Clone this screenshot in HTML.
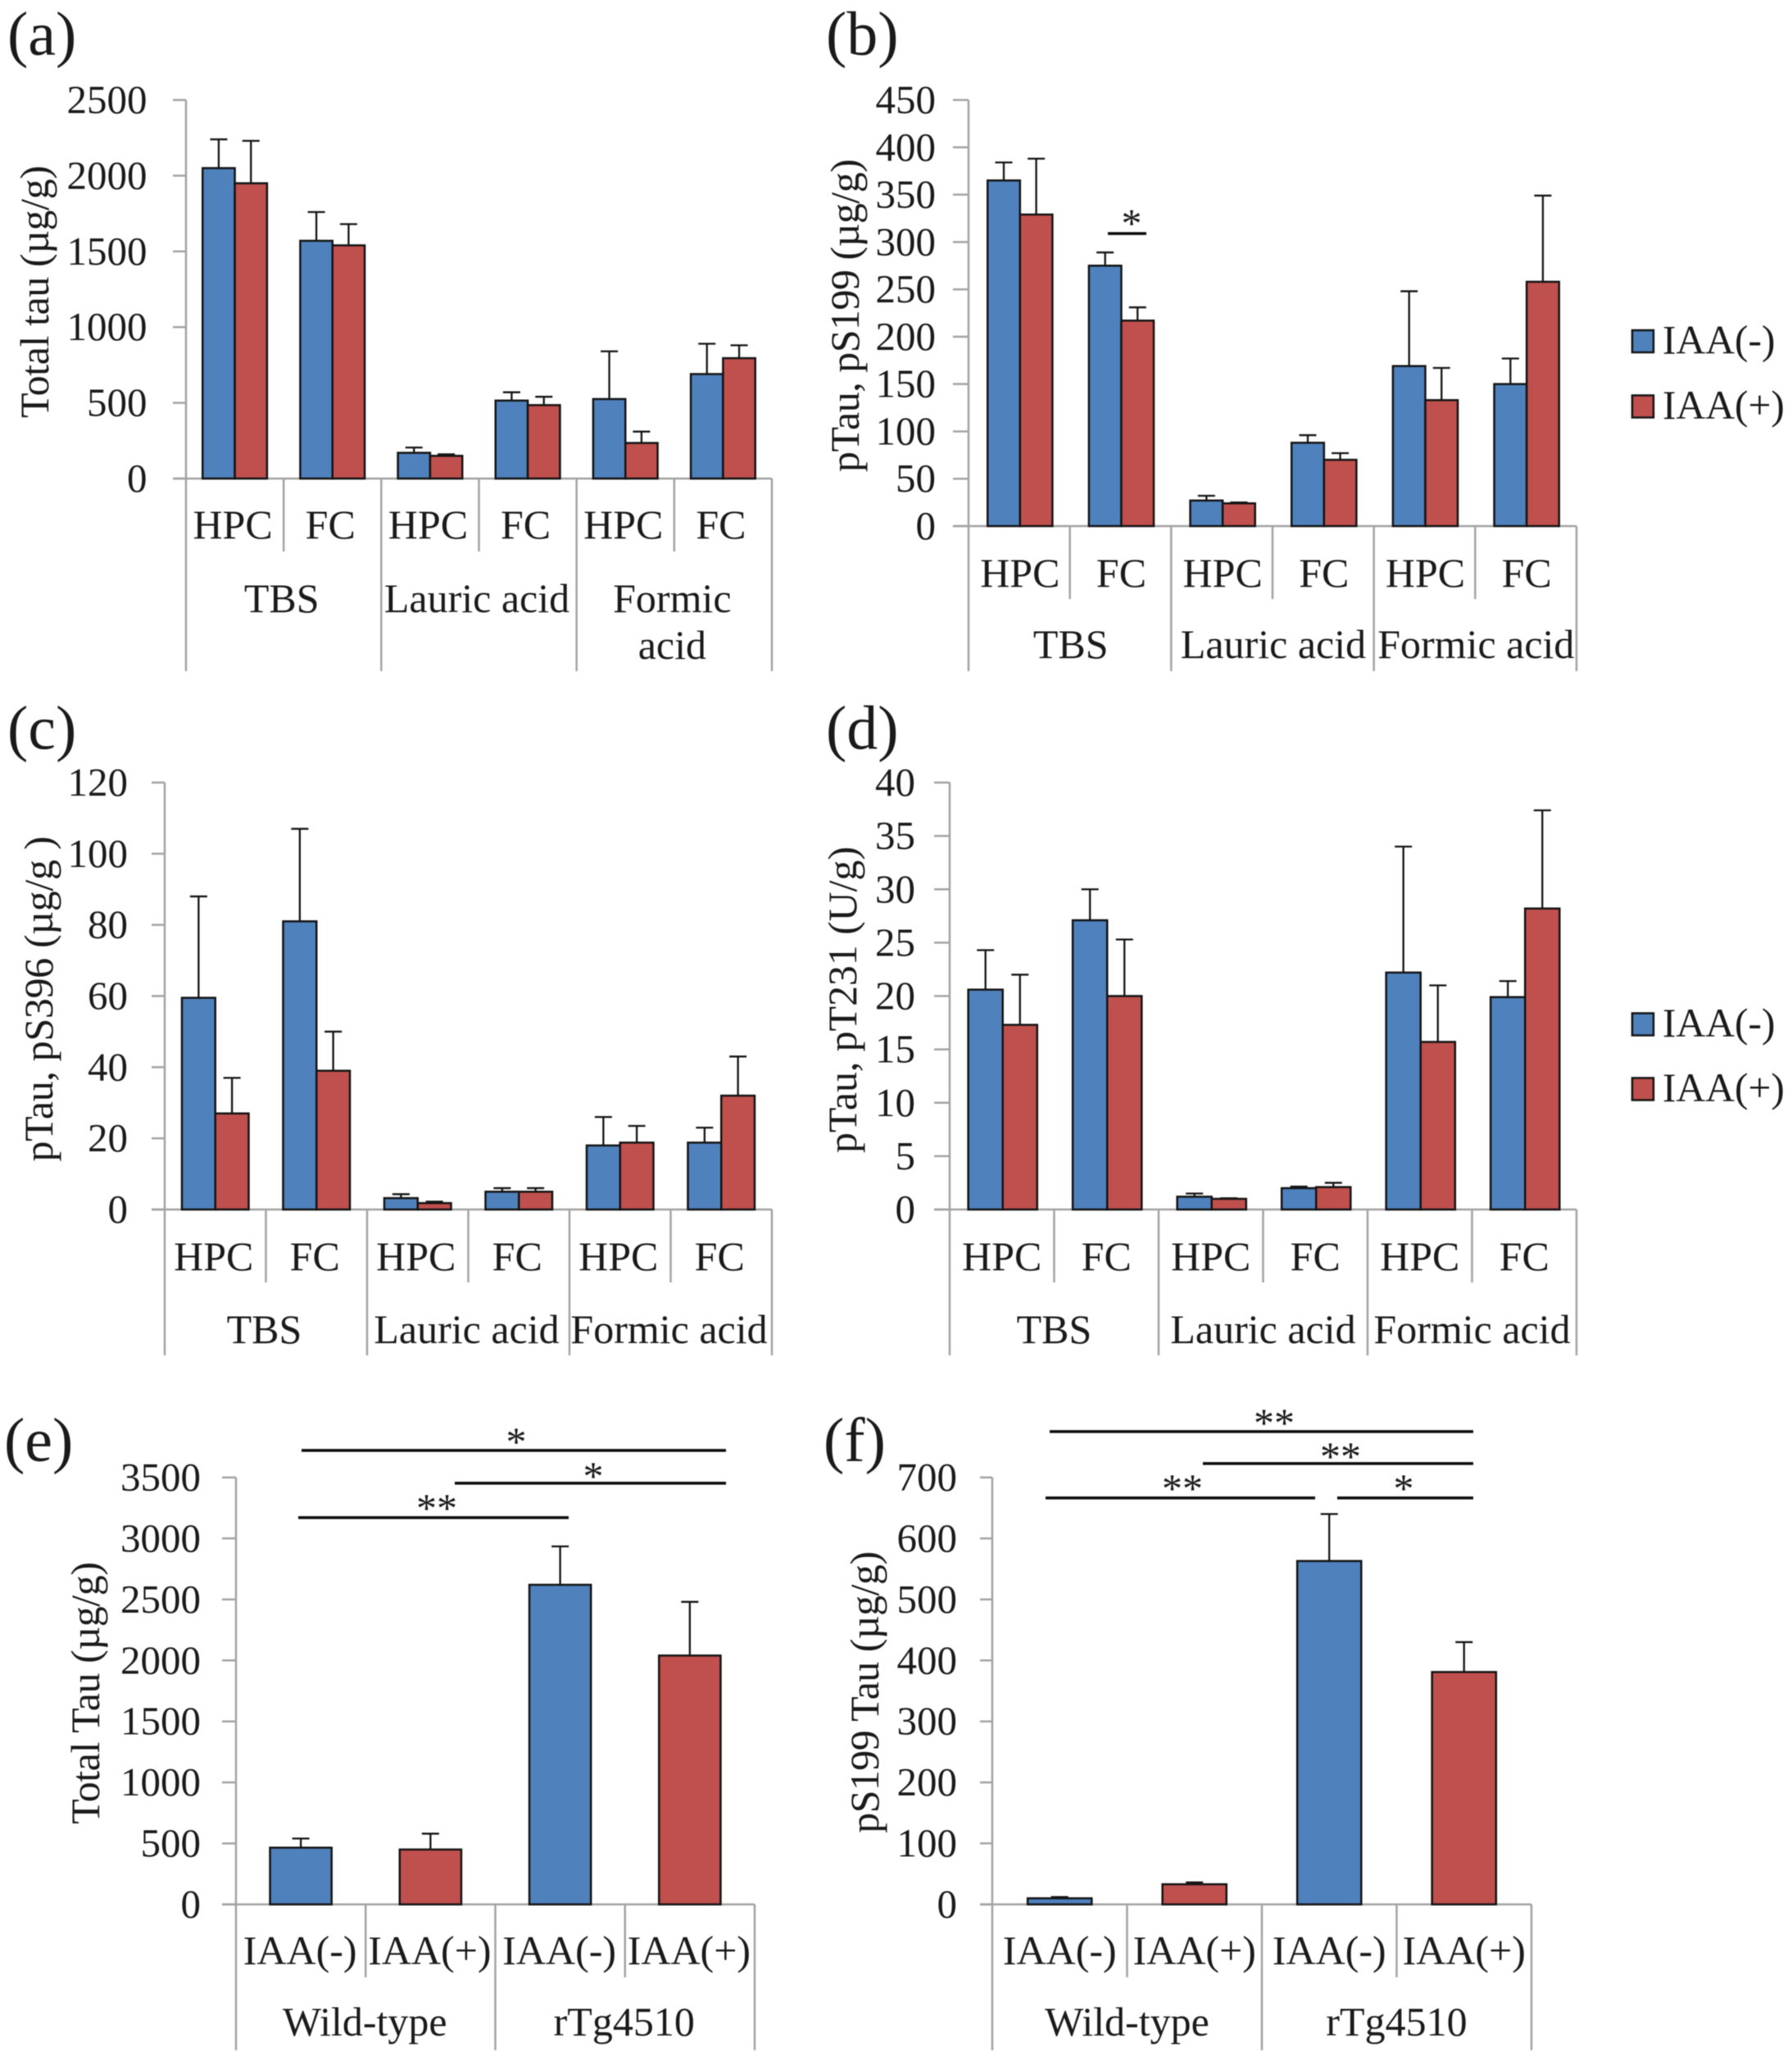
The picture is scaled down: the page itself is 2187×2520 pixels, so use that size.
<!DOCTYPE html>
<html lang="en">
<head>
<meta charset="utf-8">
<title>Tau levels by fraction, region and IAA treatment</title>
<style>
  html, body { margin: 0; padding: 0; background: #fff; }
  #figure { display: block; width: 2187px; height: 2520px; filter: blur(0.6px); }
  text { font-family: "Liberation Serif", "Times New Roman", serif; fill: #1a1a1a; }
</style>
</head>
<body>
<svg id="figure" xmlns="http://www.w3.org/2000/svg" width="2187" height="2520" viewBox="0 0 2187 2520"></svg>
<script>
// ---- shared categories ----
var regionCategories = ['HPC', 'FC', 'HPC', 'FC', 'HPC', 'FC'];
var fractionGroups = ['TBS', 'Lauric acid', 'Formic acid'];
var fractionGroupsWrapped = ['TBS', 'Lauric acid', 'Formic\nacid'];
var treatmentCategories = ['IAA(-)', 'IAA(+)', 'IAA(-)', 'IAA(+)'];
var genotypeGroups = ['Wild-type', 'rTg4510'];
var legendLabels = ['IAA(-)', 'IAA(+)'];

// ---- panel a ----
var aTicks = [0, 500, 1000, 1500, 2000, 2500];
var aBlue = [2050, 1570, 170, 515, 525, 690];
var aRed = [1950, 1540, 150, 485, 235, 795];
var aBlueErrTop = [2240, 1760, 205, 570, 840, 890];
var aRedErrTop = [2230, 1680, 160, 540, 310, 880];

// ---- panel b ----
var bTicks = [0, 50, 100, 150, 200, 250, 300, 350, 400, 450];
var bBlue = [365, 275, 27, 88, 169, 150];
var bRed = [329, 217, 24, 70, 133, 258];
var bBlueErrTop = [384, 289, 32, 96, 248, 177];
var bRedErrTop = [388, 231, 25, 77, 167, 349];

// ---- panel c ----
var cTicks = [0, 20, 40, 60, 80, 100, 120];
var cBlue = [59.5, 81, 3.2, 5, 18, 18.8];
var cRed = [27, 39, 1.8, 5, 18.8, 32];
var cBlueErrTop = [88, 107, 4.3, 6, 26, 23];
var cRedErrTop = [37, 50, 2.2, 6, 23.5, 43];

// ---- panel d ----
var dTicks = [0, 5, 10, 15, 20, 25, 30, 35, 40];
var dBlue = [20.6, 27.1, 1.2, 2, 22.2, 19.9];
var dRed = [17.3, 20, 1, 2.1, 15.7, 28.2];
var dBlueErrTop = [24.3, 30, 1.5, 2.15, 34, 21.4];
var dRedErrTop = [22, 25.3, 1.05, 2.5, 21, 37.4];

// ---- panel e ----
var eTicks = [0, 500, 1000, 1500, 2000, 2500, 3000, 3500];
var eValues = [465, 450, 2620, 2040];
var eErrTop = [540, 580, 2935, 2480];

// ---- panel f ----
var fTicks = [0, 100, 200, 300, 400, 500, 600, 700];
var fValues = [10, 33, 563, 381];
var fErrTop = [12, 36, 640, 430];

var SVG_NS = 'http://www.w3.org/2000/svg';
var root = document.getElementById('figure');
var BLUE = '#4F81BD', RED = '#C0504D', AXIS = '#a3a3a3', INK = '#141414';

function mk(tag, attrs, parent) {
  var el = document.createElementNS(SVG_NS, tag);
  for (var k in attrs) el.setAttribute(k, attrs[k]);
  parent.appendChild(el);
  return el;
}

function axisLine(g, x1, y1, x2, y2, name) {
  var el = mk('line', { x1: x1, y1: y1, x2: x2, y2: y2, stroke: AXIS, 'stroke-width': 2.5 }, g);
  
  
  return el;
}

function label(g, str, x, y, size, anchor, name) {
  var el = mk('text', { x: x, y: y, 'font-size': size, 'text-anchor': anchor }, g);
  el.textContent = str;
  
  
  return el;
}

function bar(g, xLeft, width, yTop, yBase, color, name) {
  var el = mk('rect', { x: xLeft, y: yTop, width: width, height: yBase - yTop, fill: color, stroke: INK, 'stroke-width': 2.5 }, g);
  
  
  return el;
}

function errorBar(g, x, yFrom, yTo, capHalf, name) {
  var eb = mk('path', { d: 'M' + x + ' ' + yFrom + 'V' + yTo + 'M' + (x - capHalf) + ' ' + yTo + 'H' + (x + capHalf), fill: 'none', stroke: INK, 'stroke-width': 2.3 }, g);
  
  
  return eb;
}

// Builds the frame (axes, ticks, category and group labels); returns scales.
function drawFrame(p) {
  var g = mk('g', {}, root);
  
  

  label(g, '(' + p.id + ')', p.tagX, p.tagY, 76, 'start', 'panel-letter-' + p.id);

  var maxV = p.ticks[p.ticks.length - 1];
  var yOf = function (v) { return p.y0 - (v / maxV) * (p.y0 - p.yTop); };
  var n = p.cats.length;
  var catW = (p.xRight - p.x0) / n;
  var perGroup = n / p.groups.length;

  axisLine(g, p.x0, p.yTop, p.x0, p.yBottom, 'y-axis-' + p.id);
  axisLine(g, p.tickLeft, p.y0, p.xRight, p.y0, 'x-axis-' + p.id);

  p.ticks.forEach(function (t) {
    axisLine(g, p.tickLeft, yOf(t), p.x0, yOf(t), 'y-tick-' + p.id + '-' + t);
    label(g, String(t), p.tickRight, yOf(t) + 16, 49, 'end', 'y-tick-label-' + p.id + '-' + t);
  });

  for (var i = 1; i <= n; i++) {
    var isGroupEdge = i % perGroup === 0;
    axisLine(g, p.x0 + i * catW, p.y0, p.x0 + i * catW, isGroupEdge ? p.yBottom : p.yShort, 'x-divider-' + p.id + '-' + i);
  }

  p.cats.forEach(function (c, i) {
    label(g, c, p.x0 + (i + 0.5) * catW + p.labelDx, p.catY, 50, 'middle', 'category-label-' + p.id + '-' + i);
  });

  p.groups.forEach(function (gr, i) {
    var cx = p.x0 + (i + 0.5) * perGroup * catW + p.labelDx;
    gr.split('\n').forEach(function (line, j) {
      label(g, line, cx, p.groupY + j * 57, 50, 'middle', 'group-label-' + p.id + '-' + i + '-' + j);
    });
  });

  var title = label(g, p.title, 0, 0, 50, 'middle', 'y-axis-title-' + p.id);
  title.setAttribute('transform', 'translate(' + p.titleX + ' ' + p.titleY + ') rotate(-90)');
  title.setAttribute('textLength', p.titleLen);

  return { g: g, yOf: yOf, catW: catW };
}

function drawPaired(p) {
  var f = drawFrame(p);
  var w = f.catW * p.barFrac;
  p.blue.forEach(function (v, i) {
    var cx = p.x0 + (i + 0.5) * f.catW + p.barDx;
    var xb = cx - w;
    var xr = cx;
    errorBar(f.g, xb + w / 2, f.yOf(v), f.yOf(p.blueErr[i]), 10.5, 'error-bar-' + p.id + '-blue-' + i);
    errorBar(f.g, xr + w / 2, f.yOf(p.red[i]), f.yOf(p.redErr[i]), 10.5, 'error-bar-' + p.id + '-red-' + i);
    bar(f.g, xb, w, f.yOf(v), p.y0, BLUE, 'bar-' + p.id + '-blue-' + i);
    bar(f.g, xr, w, f.yOf(p.red[i]), p.y0, RED, 'bar-' + p.id + '-red-' + i);
  });
  return f;
}

function drawSingle(p) {
  var f = drawFrame(p);
  var w = f.catW * p.barFrac;
  p.values.forEach(function (v, i) {
    var cx = p.x0 + (i + 0.5) * f.catW;
    errorBar(f.g, cx, f.yOf(v), f.yOf(p.errTop[i]), 10.5, 'error-bar-' + p.id + '-' + i);
    bar(f.g, cx - w / 2, w, f.yOf(v), p.y0, i % 2 === 0 ? BLUE : RED, 'bar-' + p.id + '-' + i);
  });
  return f;
}

function sigLine(g, x1, x2, y, stars, starX, starY, name) {
  var ln = mk('line', { x1: x1, y1: y, x2: x2, y2: y, stroke: '#0a0a0a', 'stroke-width': 3.5 }, g);
  
  
  label(g, stars, starX, starY + 23, 50, 'middle', name + '-stars');
}

function legend(x, yFirst, ySecond) {
  var g = mk('g', {}, root);
  
  
  [yFirst, ySecond].forEach(function (base, i) {
    var sw = mk('rect', { x: x, y: base - 28.5, width: 26, height: 27, fill: i === 0 ? BLUE : RED, stroke: INK, 'stroke-width': 2.5 }, g);
    
    
    label(g, legendLabels[i], x + 37, base, 49.5, 'start', 'legend-entry-' + i);
  });
}

var pa = drawPaired({ id: 'a', tagX: 9, tagY: 67, ticks: aTicks, cats: regionCategories, groups: fractionGroupsWrapped,
  blue: aBlue, red: aRed, blueErr: aBlueErrTop, redErr: aRedErrTop, barFrac: 0.33, barDx: 0, labelDx: -2.5,
  x0: 227, xRight: 942, tickLeft: 211, tickRight: 179.5, yTop: 122, y0: 584, yShort: 673, yBottom: 819, catY: 657, groupY: 747,
  title: 'Total tau (\u00b5g/g)', titleX: 59, titleY: 356, titleLen: 308 });

var pb = drawPaired({ id: 'b', tagX: 1008, tagY: 67, ticks: bTicks, cats: regionCategories, groups: fractionGroups,
  blue: bBlue, red: bRed, blueErr: bBlueErrTop, redErr: bRedErrTop, barFrac: 0.32, barDx: 1, labelDx: 1,
  x0: 1182, xRight: 1924, tickLeft: 1163, tickRight: 1142, yTop: 122, y0: 642, yShort: 731, yBottom: 819, catY: 716, groupY: 803,
  title: 'pTau, pS199 (\u00b5g/g)', titleX: 1048, titleY: 385, titleLen: 382 });
sigLine(pb.g, 1352, 1399, 285, '*', 1381, 266, 'significance-b');

var pc = drawPaired({ id: 'c', tagX: 9, tagY: 914, ticks: cTicks, cats: regionCategories, groups: fractionGroups,
  blue: cBlue, red: cRed, blueErr: cBlueErrTop, redErr: cRedErrTop, barFrac: 0.33, barDx: 0, labelDx: -2,
  x0: 201, xRight: 942, tickLeft: 185, tickRight: 156, yTop: 955, y0: 1476, yShort: 1565, yBottom: 1654, catY: 1550, groupY: 1639,
  title: 'pTau, pS396 (\u00b5g/g )', titleX: 64, titleY: 1219, titleLen: 397 });

var pd = drawPaired({ id: 'd', tagX: 1008, tagY: 914, ticks: dTicks, cats: regionCategories, groups: fractionGroups,
  blue: dBlue, red: dRed, blueErr: dBlueErrTop, redErr: dRedErrTop, barFrac: 0.33, barDx: 1, labelDx: 0,
  x0: 1159, xRight: 1924, tickLeft: 1140, tickRight: 1117, yTop: 955, y0: 1476, yShort: 1565, yBottom: 1654, catY: 1550, groupY: 1639,
  title: 'pTau, pT231 (U/g)', titleX: 1045, titleY: 1220, titleLen: 374 });

var pe = drawSingle({ id: 'e', tagX: 5, tagY: 1783, ticks: eTicks, cats: treatmentCategories, groups: genotypeGroups,
  values: eValues, errTop: eErrTop, barFrac: 0.475, labelDx: -1,
  x0: 288, xRight: 921, tickLeft: 271, tickRight: 245, yTop: 1803, y0: 2324, yShort: 2413, yBottom: 2502, catY: 2397, groupY: 2484,
  title: 'Total Tau (\u00b5g/g)', titleX: 121, titleY: 2066, titleLen: 320 });
sigLine(pe.g, 368, 886, 1770, '*', 630, 1753, 'significance-e-top');
sigLine(pe.g, 555, 886, 1810, '*', 724, 1795, 'significance-e-middle');
sigLine(pe.g, 364, 694, 1852, '**', 533, 1834, 'significance-e-bottom');

var pf = drawSingle({ id: 'f', tagX: 1005, tagY: 1783, ticks: fTicks, cats: treatmentCategories, groups: genotypeGroups,
  values: fValues, errTop: fErrTop, barFrac: 0.475, labelDx: 0,
  x0: 1211, xRight: 1869, tickLeft: 1196, tickRight: 1168, yTop: 1803, y0: 2324, yShort: 2413, yBottom: 2502, catY: 2397, groupY: 2484,
  title: 'pS199 Tau (\u00b5g/g)', titleX: 1072, titleY: 2065, titleLen: 344 });
sigLine(pf.g, 1281, 1798, 1747, '**', 1555, 1730, 'significance-f-top');
sigLine(pf.g, 1468, 1798, 1786, '**', 1636, 1771, 'significance-f-middle');
sigLine(pf.g, 1276, 1605, 1828, '**', 1443, 1810, 'significance-f-bottom-left');
sigLine(pf.g, 1632, 1798, 1828, '*', 1713, 1810, 'significance-f-bottom-right');

legend(1992, 431.5, 511);
legend(1992, 1265, 1344);
</script>
</body>
</html>
